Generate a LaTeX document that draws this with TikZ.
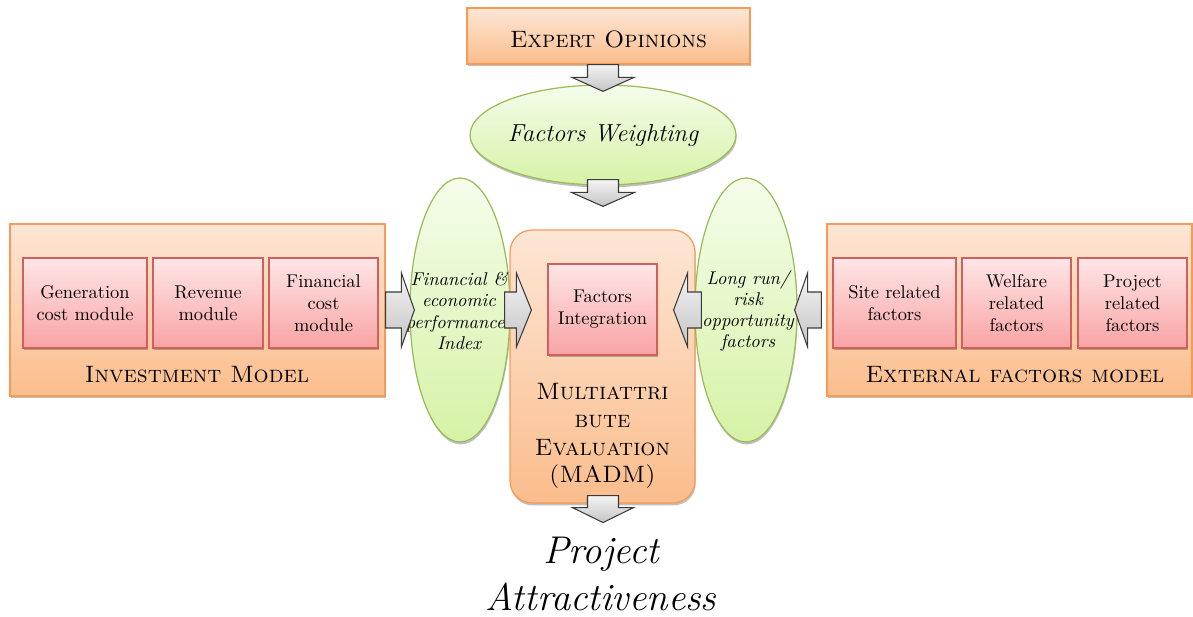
\documentclass[tikz,border=0pt]{standalone}
\usetikzlibrary{shapes.geometric,shadows,calc}
\definecolor{orB}{HTML}{F79A55}
\definecolor{orT}{HTML}{FDE6D5}
\definecolor{orBot}{HTML}{FBBD8C}
\definecolor{pkB}{HTML}{D0605E}
\definecolor{pkT}{HTML}{FFE6E7}
\definecolor{pkBot}{HTML}{F9A3A4}
\definecolor{grB}{HTML}{9BBB59}
\definecolor{grT}{HTML}{F5FDEB}
\definecolor{grBot}{HTML}{D6F2A6}
\definecolor{arB}{HTML}{3A3A3A}
\definecolor{arT}{HTML}{F4F4F4}
\definecolor{arBot}{HTML}{C4C4C4}
\tikzset{
  shad/.style={drop shadow={shadow xshift=0.4pt, shadow yshift=-1.4pt, opacity=0.25, fill=black}},
  orbox/.style={rectangle, draw=orB, line width=0.7pt, top color=orT, bottom color=orBot, inner sep=0pt, shad},
  pkbox/.style={rectangle, draw=pkB, line width=0.7pt, top color=pkT, bottom color=pkBot, inner sep=0pt, align=center,
     font=\fontsize{10.5}{12.5}\selectfont, minimum height=1.8cm, shad},
  grell/.style={ellipse, draw=grB, line width=0.7pt, top color=grT, bottom color=grBot, inner sep=0pt, shad},
  barrow/.style={draw=arB, line width=0.6pt, top color=arT, bottom color=arBot, line join=miter},
  sctext/.style={font=\fontsize{13.5}{16}\selectfont\scshape, inner sep=0pt, align=center},
  ittext/.style={font=\fontsize{10.5}{12}\selectfont\itshape, inner sep=0pt, align=center},
}
% #1 start, #2 tip, #3 shaft half width, #4 head half width, #5 head length
\newcommand\blockarrow[5]{%
  \coordinate (tmpB) at ($(#2)!#5!(#1)$);
  \path[barrow] ($(#1)!#3!90:(#2)$) -- ($(tmpB)!#3!-90:(#1)$) -- ($(tmpB)!#4!-90:(#1)$) -- (#2)
     -- ($(tmpB)!#4!90:(#1)$) -- ($(tmpB)!#3!90:(#1)$) -- ($(#1)!#3!-90:(#2)$) -- cycle;}
\begin{document}
\begin{tikzpicture}[x=0.02cm,y=-0.02cm]
\useasboundingbox (0,0) rectangle (1193,617);
% top
\node[orbox, minimum width=5.66cm, minimum height=1.12cm] (expert) at (608.5,36) {};
\node[sctext] (expertT) at (608.5,39) {Expert Opinions};
\node[grell, minimum width=5.32cm, minimum height=2.0cm] (weight) at (603,135) {};
\node[font=\fontsize{14}{16}\selectfont\itshape, inner sep=0pt] (weightT) at (603,135) {Factors Weighting};
% side ellipses
\node[grell, minimum width=2.0cm, minimum height=5.28cm] (leftell) at (460,310) {};
\node[grell, minimum width=2.04cm, minimum height=5.28cm] (rightell) at (746,310) {};
% MADM
\node[orbox, rounded corners=0.44cm, minimum width=3.7cm, minimum height=5.46cm] (madm) at (602.5,366.5) {};
\node[pkbox, minimum width=2.18cm, minimum height=1.82cm] (integ) at (602.5,309.5) {Factors\\Integration};
\node[sctext, font=\fontsize{13.5}{15.8}\selectfont\scshape] (madmT) at (602.5,436) {Multiattri\\bute\\Evaluation\\(MADM)};
% investment model
\node[orbox, minimum width=7.5cm, minimum height=3.44cm] (invmodel) at (197.5,310) {};
\node[pkbox, minimum width=2.48cm] (gen) at (85,303) {Generation\\cost module};
\node[pkbox, minimum width=2.2cm] (rev) at (208,303) {Revenue\\module};
\node[pkbox, minimum width=2.18cm] (fin) at (323.5,303) {Financial\\cost\\module};
\node[sctext] (invT) at (197,375) {Investment Model};
% external factors model
\node[orbox, minimum width=7.3cm, minimum height=3.44cm] (extmodel) at (1009.5,310) {};
\node[pkbox, minimum width=2.46cm] (site) at (894.5,303) {Site related\\factors};
\node[pkbox, minimum width=2.18cm] (welf) at (1016.5,303) {Welfare\\related\\factors};
\node[pkbox, minimum width=2.18cm] (proj) at (1132.5,303) {Project\\related\\factors};
\node[sctext] (extT) at (1015,375) {External factors model};
% ellipse texts
\node[ittext] (leftT) at (459,311) {Financial \&\\economic\\performances\\Index};
\node[ittext] (rightT) at (748,311) {Long run/\\risk\\opportunity\\factors};
% result
\node[font=\fontsize{22}{26.5}\selectfont\itshape, inner sep=0pt, align=center] (result) at (601,574) {Project\\Attractiveness};
% block arrows
\coordinate (a1s) at (expert.south -| weight.center);
\coordinate (a1t) at ($(weight.north)+(0,7)$);
\blockarrow{a1s}{a1t}{0.31cm}{0.62cm}{0.28cm}
\coordinate (a2s) at ($(weight.south)+(0,-6)$);
\coordinate (a2t) at ($(madm.north)+(0.5,-23)$);
\blockarrow{a2s}{a2t}{0.31cm}{0.63cm}{0.28cm}
\coordinate (a3s) at ($(madm.south)+(0.5,-8)$);
\coordinate (a3t) at ($(madm.south)+(0.5,19)$);
\blockarrow{a3s}{a3t}{0.31cm}{0.61cm}{0.3cm}
\coordinate (a4s) at (invmodel.east);
\coordinate (a4t) at ($(leftell.west)+(5,0)$);
\blockarrow{a4s}{a4t}{0.36cm}{0.74cm}{0.26cm}
\coordinate (a5s) at ($(leftell.east)+(-6,0)$);
\coordinate (a5t) at ($(madm.west |- leftell.east)+(22,0)$);
\blockarrow{a5s}{a5t}{0.36cm}{0.74cm}{0.3cm}
\coordinate (a6s) at ($(rightell.west)+(7,0)$);
\coordinate (a6t) at ($(madm.east |- rightell.west)+(-22,0)$);
\blockarrow{a6s}{a6t}{0.36cm}{0.74cm}{0.28cm}
\coordinate (a7s) at ($(extmodel.west)+(-5,0)$);
\coordinate (a7t) at ($(rightell.east)+(-3,0)$);
\blockarrow{a7s}{a7t}{0.36cm}{0.74cm}{0.26cm}
\end{tikzpicture}
\end{document}
